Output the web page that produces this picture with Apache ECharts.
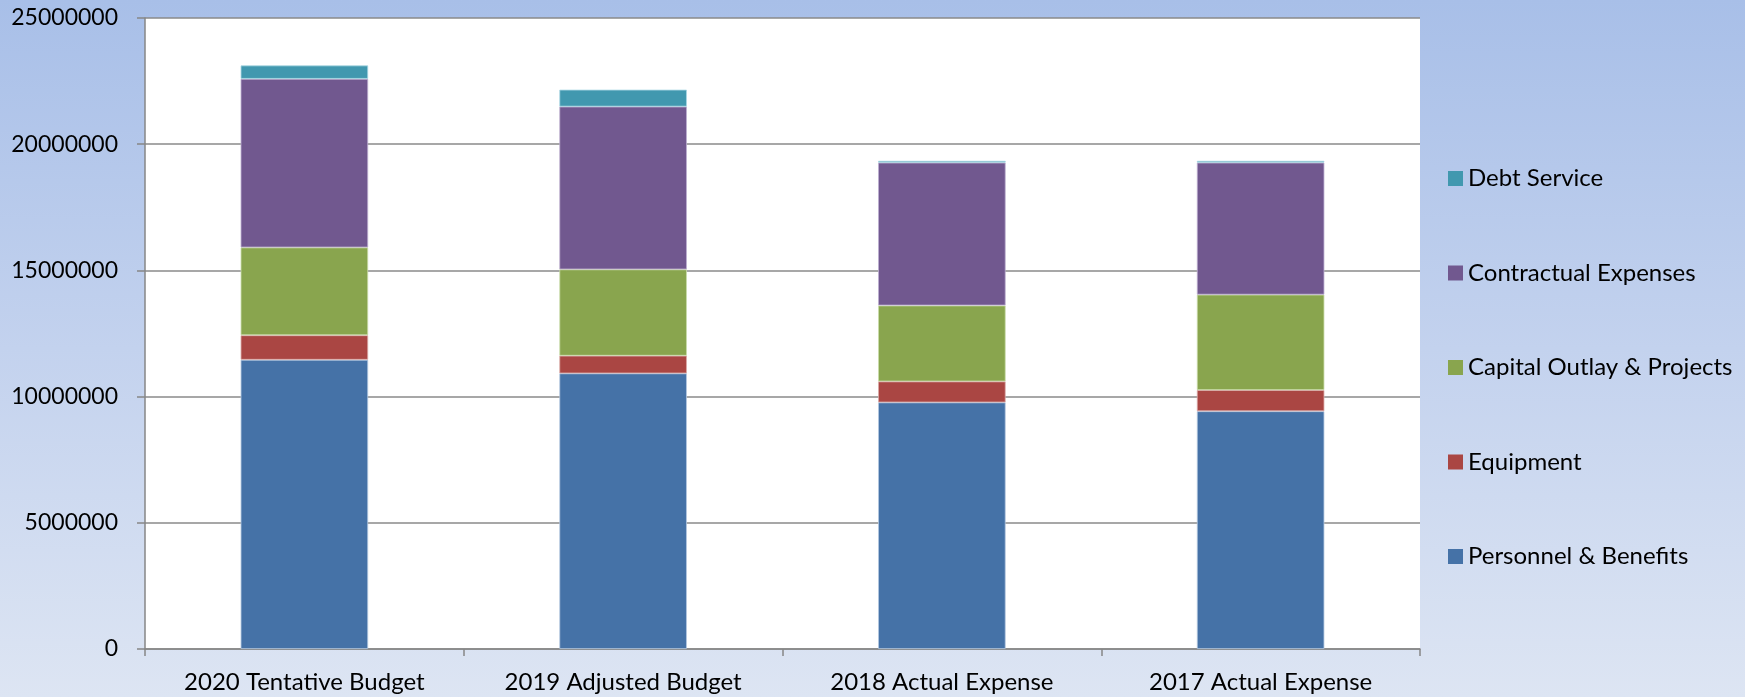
<!DOCTYPE html>
<html>
<head>
<meta charset="utf-8">
<script src="https://cdn.jsdelivr.net/npm/echarts@6/dist/echarts.min.js"></script>
<style>
html,body{margin:0;padding:0;}
#c{width:1745px;height:697px;background:linear-gradient(to bottom,#a8bfe8 0%,#c3d2ee 50%,#dde5f3 100%);}
</style>
</head>
<body>
<div id="c"></div>
<script>
const categories = ['2020 Tentative Budget','2019 Adjusted Budget','2018 Actual Expense','2017 Actual Expense'];
const personnel = [11460000, 10920000, 9770000, 9420000];
const equipment = [970000, 700000, 830000, 840000];
const capital = [3480000, 3420000, 3010000, 3780000];
const contractual = [6680000, 6450000, 5660000, 5230000];
const debt = [530000, 670000, 70000, 70000];
const yTicks = {min: 0, max: 25000000, interval: 5000000};

const names = ['Personnel & Benefits','Equipment','Capital Outlay & Projects','Contractual Expenses','Debt Service'];
const colors = ['#4572A7','#AA4643','#89A54E','#71588F','#4198AF'];
const borders = ['#b4c8e0','#dba9a7','#c9dcaa','#bcaed0','#a9d7e3'];
const dataSets = [personnel, equipment, capital, contractual, debt];
const font = 'Lato, "Open Sans", sans-serif';

const chart = echarts.init(document.getElementById('c'));
chart.setOption({
  backgroundColor: 'transparent',
  animation: false,
  grid: {left: 145, right: 325, top: 18, bottom: 48, show: true, backgroundColor: '#ffffff', borderWidth: 0},
  legend: {
    orient: 'vertical', left: 1448, top: 166.5, padding: 0,
    data: names.slice().reverse(),
    icon: 'rect', itemWidth: 15, itemHeight: 15, itemGap: 70.5,
    itemStyle: {borderWidth: 0},
    textStyle: {fontFamily: font, fontSize: 24, lineHeight: 24, color: '#000'}
  },
  xAxis: {
    type: 'category', data: categories,
    axisLine: {lineStyle: {color: '#868686', width: 1.5}},
    axisTick: {show: true, length: 7, lineStyle: {color: '#868686', width: 1.5}},
    axisLabel: {fontFamily: font, fontSize: 24, color: '#000', margin: 21, interval: 0}
  },
  yAxis: {
    type: 'value', min: yTicks.min, max: yTicks.max, interval: yTicks.interval,
    axisLine: {show: true, lineStyle: {color: '#868686', width: 1.5}},
    axisTick: {show: true, length: 8, lineStyle: {color: '#868686', width: 1.5}},
    splitLine: {show: true, lineStyle: {color: '#8a8a8a', width: 1.5}},
    axisLabel: {fontFamily: font, fontSize: 23, color: '#000', margin: 27, formatter: v => String(v)}
  },
  series: dataSets.map((d, i) => ({
    name: names[i], type: 'bar', stack: 'total', data: d,
    barWidth: '40%',
    itemStyle: {color: colors[i], borderColor: borders[i], borderWidth: 0.8}
  }))
});
</script>
</body>
</html>
